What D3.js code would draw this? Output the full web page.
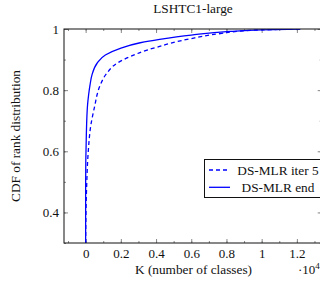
<!DOCTYPE html>
<html>
<head>
<meta charset="utf-8">
<script src="https://cdn.jsdelivr.net/npm/d3@7"></script>
<style>
body { margin: 0; background: #fff; }
svg { display: block; }
svg text { font-family: "Liberation Serif", "Times New Roman", serif; fill: #111; }
.axis path, .axis line { stroke: #888; }
.axis text { font-size: 13px; }
</style>
</head>
<body>
<script>
// K in units of 10^4 classes, CDF of rank distribution
var iter5K   = [0, 0.006, 0.015, 0.03, 0.053, 0.065, 0.083, 0.12, 0.178, 0.254, 0.349, 0.42, 0.48, 0.594, 0.765, 0.95, 1.22];
var iter5CDF = [0.30, 0.49, 0.60, 0.687, 0.752, 0.785, 0.817, 0.855, 0.888, 0.91, 0.931, 0.943, 0.953, 0.968, 0.985, 0.996, 1.0];
var endK     = [0, 0, 0.004, 0.011, 0.017, 0.025, 0.036, 0.065, 0.112, 0.197, 0.31, 0.42, 0.6, 0.82, 1.0, 1.22];
var endCDF   = [0.30, 0.49, 0.654, 0.752, 0.785, 0.817, 0.85, 0.888, 0.915, 0.937, 0.955, 0.966, 0.98, 0.992, 0.997, 1.0];

var xTicks = [0, 0.2, 0.4, 0.6, 0.8, 1, 1.2];
var yTicks = [0.4, 0.6, 0.8, 1];
var seriesNames = ["DS-MLR iter 5", "DS-MLR end"];

var W = 320, H = 284;
var margin = {top: 29, left: 64, bottom: 41};
var plotW = 257.7, plotH = H - margin.top - margin.bottom;

var svg = d3.select("body").append("svg")
	.attr("width", W)
	.attr("height", H);

var x = d3.scaleLinear().domain([-0.1229, 1.341]).range([margin.left, margin.left + plotW]);
var y = d3.scaleLinear().domain([0.3, 1]).range([margin.top + plotH, margin.top]);

var xMinor = d3.range(-0.1, 1.35, 0.1).map(function(d){ return Math.round(d*10)/10; });
var yMinor = d3.range(0.3, 1.01, 0.1).map(function(d){ return Math.round(d*10)/10; });

var fmt = function(d){ return d3.format("")(d); };

// minor ticks
svg.append("g").attr("class","axis").attr("transform","translate(0,"+y(0.3)+")")
	.call(d3.axisBottom(x).tickValues(xMinor).tickSizeInner(-2).tickSizeOuter(0).tickFormat(""));
svg.append("g").attr("class","axis").attr("transform","translate(0,"+y(1)+")")
	.call(d3.axisTop(x).tickValues(xMinor).tickSizeInner(-2).tickSizeOuter(0).tickFormat(""));
svg.append("g").attr("class","axis").attr("transform","translate("+x.range()[0]+",0)")
	.call(d3.axisLeft(y).tickValues(yMinor).tickSizeInner(-2).tickSizeOuter(0).tickFormat(""));
svg.append("g").attr("class","axis").attr("transform","translate("+x.range()[1]+",0)")
	.call(d3.axisRight(y).tickValues(yMinor).tickSizeInner(-2).tickSizeOuter(0).tickFormat(""));

// major ticks
svg.append("g").attr("class","axis").attr("transform","translate(0,"+y(0.3)+")")
	.call(d3.axisBottom(x).tickValues(xTicks).tickSizeInner(-4).tickSizeOuter(0).tickPadding(6).tickFormat(fmt));
svg.append("g").attr("class","axis").attr("transform","translate(0,"+y(1)+")")
	.call(d3.axisTop(x).tickValues(xTicks).tickSizeInner(-4).tickSizeOuter(0).tickFormat(""));
svg.append("g").attr("class","axis").attr("transform","translate("+x.range()[0]+",0)")
	.call(d3.axisLeft(y).tickValues(yTicks).tickSizeInner(-4).tickSizeOuter(0).tickPadding(5).tickFormat(fmt));
svg.append("g").attr("class","axis").attr("transform","translate("+x.range()[1]+",0)")
	.call(d3.axisRight(y).tickValues(yTicks).tickSizeInner(-4).tickSizeOuter(0).tickFormat(""));
svg.selectAll(".axis path").remove();

// curves
svg.append("clipPath").attr("id","plotclip").append("rect")
	.attr("x", x.range()[0]).attr("y", margin.top).attr("width", plotW).attr("height", plotH);

var line = d3.line()
	.x(function(d){ return x(d[0]); })
	.y(function(d){ return y(d[1]); })
	.curve(d3.curveMonotoneY);

var iter5 = iter5K.map(function(k,i){ return [k, iter5CDF[i]]; });
var end = endK.map(function(k,i){ return [k, endCDF[i]]; });

svg.append("path").datum(iter5)
	.attr("clip-path","url(#plotclip)")
	.attr("fill","none").attr("stroke","#0000ff").attr("stroke-width",1.3)
	.attr("stroke-dasharray","4,3")
	.attr("d", line);
svg.append("path").datum(end)
	.attr("clip-path","url(#plotclip)")
	.attr("fill","none").attr("stroke","#0000ff").attr("stroke-width",1.3)
	.attr("d", line);

// frame
svg.append("rect")
	.attr("x", x.range()[0]).attr("y", margin.top)
	.attr("width", plotW).attr("height", plotH)
	.attr("fill","none").attr("stroke","#111").attr("stroke-width",1);

// legend
var lg = svg.append("g").attr("transform","translate(204.5,159.5)");
lg.append("rect").attr("x",0).attr("y",0).attr("width",125).attr("height",38)
	.attr("fill","#fff").attr("stroke","#111").attr("stroke-width",1);
seriesNames.forEach(function(name,i){
	var yy = 10.5 + i*17.3;
	lg.append("line").attr("x1",4.5).attr("x2",25.5).attr("y1",yy).attr("y2",yy)
		.attr("stroke","#0000ff").attr("stroke-width",1.3)
		.attr("stroke-dasharray", i == 0 ? "4,3" : null);
	lg.append("text").attr("x",73.5).attr("y",yy+4.5).attr("text-anchor","middle")
		.attr("font-size","13.3px").text(name);
});

// labels
svg.append("text").attr("x",193).attr("y",13).attr("text-anchor","middle")
	.attr("font-size","13.3px").text("LSHTC1-large");
svg.append("text").attr("x",193.5).attr("y",274).attr("text-anchor","middle")
	.attr("font-size","13.3px").text("K (number of classes)");
var sc = svg.append("text").attr("x",298).attr("y",274).attr("font-size","13px");
sc.append("tspan").text("\u00b710");
sc.append("tspan").attr("dy",-5).attr("font-size","9px").text("4");
svg.append("text").attr("transform","translate(20,136) rotate(-90)").attr("text-anchor","middle")
	.attr("font-size","13.3px").text("CDF of rank distribution");
</script>
</body>
</html>
